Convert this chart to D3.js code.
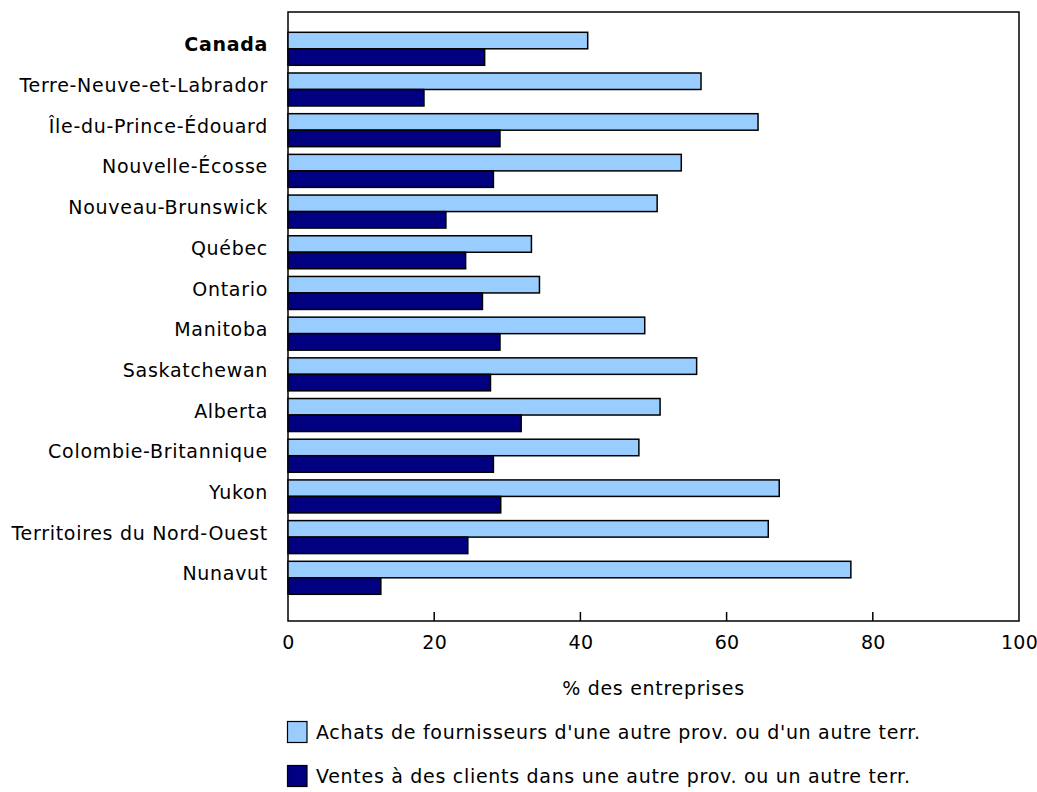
<!DOCTYPE html>
<html>
<head>
<meta charset="utf-8">
<script src="https://cdn.jsdelivr.net/npm/d3@7"></script>
<style>
  body { margin: 0; background: #fff; }
  text { font-family: "DejaVu Sans", Verdana, sans-serif; fill: #000; letter-spacing: 0.7px; }
</style>
</head>
<body>
<svg id="chart" width="1037" height="792"></svg>
<script>
const categories = ["Canada", "Terre-Neuve-et-Labrador", "Île-du-Prince-Édouard", "Nouvelle-Écosse",
  "Nouveau-Brunswick", "Québec", "Ontario", "Manitoba", "Saskatchewan", "Alberta",
  "Colombie-Britannique", "Yukon", "Territoires du Nord-Ouest", "Nunavut"];
const achats = [41.0, 56.5, 64.3, 53.8, 50.5, 33.3, 34.4, 48.8, 55.9, 50.9, 48.0, 67.2, 65.7, 77.0];
const ventes = [26.9, 18.6, 29.0, 28.1, 21.6, 24.3, 26.6, 29.0, 27.7, 31.9, 28.1, 29.1, 24.6, 12.7];
const seriesNames = ["Achats de fournisseurs d'une autre prov. ou d'un autre terr.",
  "Ventes à des clients dans une autre prov. ou un autre terr."];
const seriesColors = ["#99CCFF", "#000080"];
const xTicks = [0, 20, 40, 60, 80, 100];
const xTitle = "% des entreprises";

const svg = d3.select("#chart");
const mLeft = 288, mRight = 1019, mTop = 12, mBottom = 621;
const FS = "19px";

const x = d3.scaleLinear().domain([0, 100]).range([mLeft, mRight]);
const y = d3.scaleBand().domain(categories).range([32.3, 594.3]).paddingInner(0.189).paddingOuter(0);
const ySub = d3.scaleBand().domain([0, 1]).range([0, y.bandwidth()]);

const data = categories.map((c, i) => ({ c, vals: [achats[i], ventes[i]] }));

// frame
svg.append("rect").attr("x", mLeft).attr("y", mTop).attr("width", mRight - mLeft).attr("height", mBottom - mTop)
  .attr("fill", "none").attr("stroke", "#000").attr("stroke-width", 1.5);

// bars
const g = svg.append("g");
data.forEach(d => {
  d.vals.forEach((v, k) => {
    g.append("rect")
      .attr("x", x(0))
      .attr("y", y(d.c) + ySub(k))
      .attr("width", x(v) - x(0))
      .attr("height", ySub.bandwidth())
      .attr("fill", seriesColors[k])
      .attr("stroke", "#000")
      .attr("stroke-width", 1.5);
  });
});

// x axis
const xAxis = d3.axisBottom(x).tickValues(xTicks).tickSize(0).tickPadding(15).tickFormat(d3.format("d"));
const ax = svg.append("g").attr("transform", `translate(0,${mBottom})`).call(xAxis);
ax.select(".domain").remove();
ax.selectAll("text").style("font-size", FS).style("letter-spacing", "0.3px")
  .style("font-family", '"DejaVu Sans", Verdana, sans-serif');
// inward ticks
svg.append("g").selectAll("line").data(xTicks.slice(1, -1)).join("line")
  .attr("x1", d => x(d)).attr("x2", d => x(d))
  .attr("y1", mBottom).attr("y2", mBottom - 9)
  .attr("stroke", "#000").attr("stroke-width", 1.5);

// y labels
const yAxis = d3.axisLeft(y).tickSize(0).tickPadding(20);
const ay = svg.append("g").attr("transform", `translate(${mLeft},-3.5)`).call(yAxis);
ay.select(".domain").remove();
ay.selectAll("text").style("font-size", FS).style("font-family", '"DejaVu Sans", Verdana, sans-serif')
  .style("font-weight", d => d === "Canada" ? "bold" : "normal");

// x title
svg.append("text").attr("x", (mLeft + mRight) / 2).attr("y", 688).attr("dy", "0.35em").attr("text-anchor", "middle")
  .style("font-size", FS).text(xTitle);

// legend
const legY = [732, 776];
seriesNames.forEach((n, k) => {
  svg.append("rect").attr("x", 287.5).attr("y", legY[k] - 10.5).attr("width", 19.5).attr("height", 21)
    .attr("fill", seriesColors[k]).attr("stroke", "#000").attr("stroke-width", 1.2);
  svg.append("text").attr("x", 316).attr("y", legY[k]).attr("dy", "0.35em")
    .style("font-size", FS).text(n);
});
</script>
</body>
</html>
